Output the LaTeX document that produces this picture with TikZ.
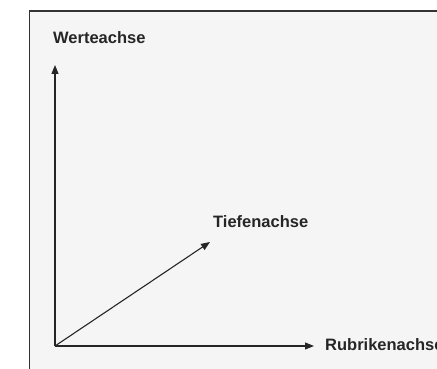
\documentclass[tikz,border=0pt]{standalone}
\usepackage{fontspec}
\setmainfont{Liberation Sans}
\usetikzlibrary{arrows.meta}
\begin{document}
\begin{tikzpicture}[x=1pt,y=-1pt,
  axis/.style={draw=black!85, line width=1.1pt, -{Triangle[length=9pt,width=7pt]}},
  lbl/.style={font=\bfseries\fontsize{16.5}{18}\selectfont, text=black!85, anchor=west, inner sep=0pt}]
\useasboundingbox (0,0) rectangle (437,369);
\clip (0,0) rectangle (437,369);
\fill[white] (0,0) rectangle (437,369);
\fill[black!4] (29.5,11) rectangle (440,372);
\draw[black!80, line width=1.3pt] (29.5,372) -- (29.5,11) -- (440,11);
\coordinate (o) at (55,346);
\coordinate (yend) at (55,65);
\coordinate (xend) at (314,346);
\coordinate (zend) at (210,242);
\node[lbl] (w) at (53,38) {Werteachse};
\node[lbl] (t) at (213,222) {Tiefenachse};
\node[lbl] (r) at (325,345) {Rubrikenachse};
\draw[axis] (o) -- (yend);
\draw[axis] (o) -- (xend);
\draw[axis] (o) -- (zend);
\end{tikzpicture}
\end{document}
